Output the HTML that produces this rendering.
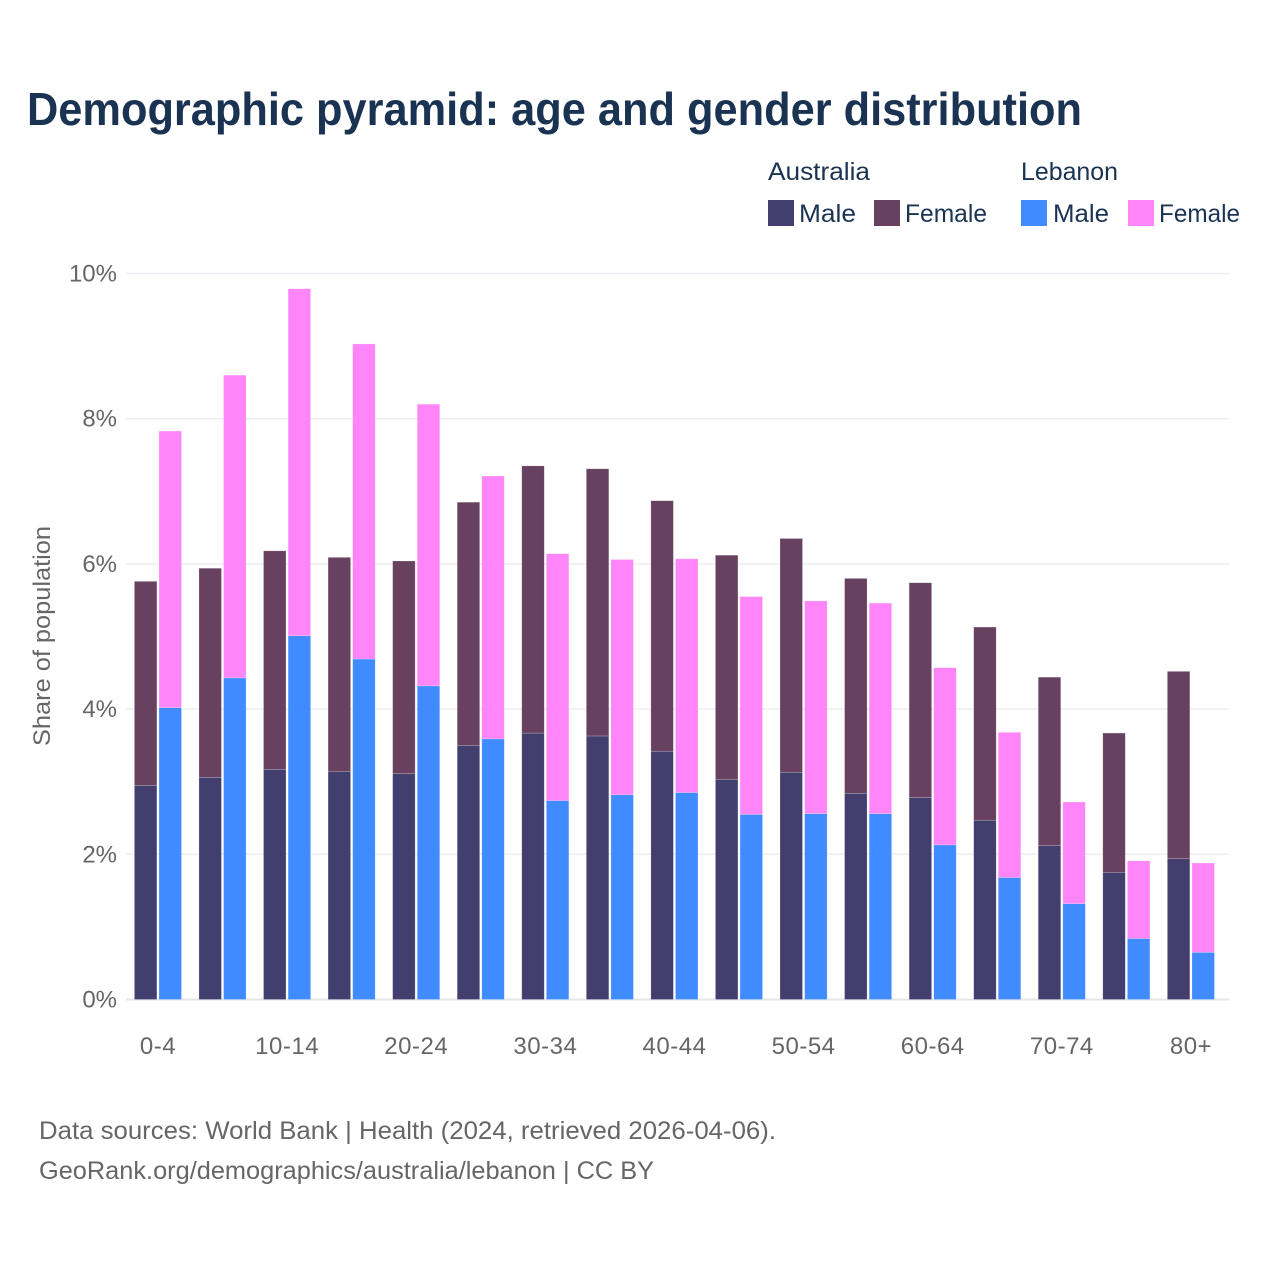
<!DOCTYPE html>
<html lang="en">
<head>
<meta charset="utf-8">
<title>Demographic pyramid: age and gender distribution</title>
<style>
html,body{margin:0;padding:0;background:#fff;width:1280px;height:1280px;overflow:hidden}
svg{display:block}
text{font-family:"Liberation Sans",sans-serif}
</style>
</head>
<body>
<svg id="chart" xmlns="http://www.w3.org/2000/svg" width="1280" height="1280" viewBox="0 0 1280 1280">
<rect x="0" y="0" width="1280" height="1280" fill="#ffffff"/>
<text x="27" y="125" font-size="46" font-weight="700" fill="#1a3352" textLength="1055" lengthAdjust="spacingAndGlyphs">Demographic pyramid: age and gender distribution</text>
<g font-size="25" fill="#1a3352">
<text x="768" y="180" textLength="102" lengthAdjust="spacingAndGlyphs">Australia</text>
<text x="1021" y="180" textLength="97" lengthAdjust="spacingAndGlyphs">Lebanon</text>
<rect x="768" y="200" width="26" height="26" fill="#423f6f"/>
<text x="799" y="222" textLength="57" lengthAdjust="spacingAndGlyphs">Male</text>
<rect x="874" y="200" width="26" height="26" fill="#67415f"/>
<text x="905" y="222" textLength="82" lengthAdjust="spacingAndGlyphs">Female</text>
<rect x="1021" y="200" width="26" height="26" fill="#3f8bff"/>
<text x="1053" y="222" textLength="56" lengthAdjust="spacingAndGlyphs">Male</text>
<rect x="1128" y="200" width="26" height="26" fill="#ff85f8"/>
<text x="1159" y="222" textLength="81" lengthAdjust="spacingAndGlyphs">Female</text>
</g>
<g id="grid"></g>
<g id="bars"></g>
<g id="yticks"></g>
<g id="xticks"></g>
<text transform="translate(50,636) rotate(-90)" text-anchor="middle" font-size="24" fill="#666666" textLength="220" lengthAdjust="spacingAndGlyphs">Share of population</text>
<text x="39" y="1139" font-size="25" fill="#666666" textLength="737" lengthAdjust="spacingAndGlyphs">Data sources: World Bank | Health (2024, retrieved 2026-04-06).</text>
<text x="39" y="1179" font-size="25" fill="#666666" textLength="615" lengthAdjust="spacingAndGlyphs">GeoRank.org/demographics/australia/lebanon | CC BY</text>
</svg>
<script>
const categories = ["0-4","5-9","10-14","15-19","20-24","25-29","30-34","35-39","40-44","45-49","50-54","55-59","60-64","65-69","70-74","75-79","80+"];
const tickCategories = ["0-4","10-14","20-24","30-34","40-44","50-54","60-64","70-74","80+"];
const yTicks = [0,2,4,6,8,10];
const australiaMale = [2.95,3.06,3.17,3.14,3.11,3.50,3.67,3.63,3.42,3.03,3.13,2.84,2.78,2.47,2.12,1.75,1.94];
const australiaFemale = [2.81,2.88,3.01,2.95,2.93,3.35,3.68,3.68,3.45,3.09,3.22,2.96,2.96,2.66,2.32,1.92,2.58];
const lebanonMale = [4.02,4.43,5.01,4.69,4.32,3.59,2.74,2.82,2.85,2.55,2.56,2.56,2.13,1.68,1.32,0.84,0.65];
const lebanonFemale = [3.81,4.17,4.78,4.34,3.88,3.62,3.40,3.24,3.22,3.00,2.93,2.90,2.44,2.00,1.40,1.07,1.23];

const NS = 'http://www.w3.org/2000/svg';
const yScale = v => 999.5 - v * 72.6;
const xScale = i => 158 + i * 64.56;
const barWidth = 22.5;

const gridGroup = document.getElementById('grid');
const yTickGroup = document.getElementById('yticks');
yTicks.forEach(t => {
  const line = document.createElementNS(NS, 'line');
  
  
  line.setAttribute('x1', 126);
  line.setAttribute('x2', 1229);
  line.setAttribute('y1', yScale(t));
  line.setAttribute('y2', yScale(t));
  line.setAttribute('stroke', t === 0 ? '#e6e6ea' : '#eeeef2');
  line.setAttribute('stroke-width', t === 0 ? 2 : 1.5);
  gridGroup.appendChild(line);
  const label = document.createElementNS(NS, 'text');
  
  
  label.setAttribute('x', 117);
  label.setAttribute('y', yScale(t) + 8);
  label.setAttribute('text-anchor', 'end');
  label.setAttribute('font-size', 24);
  label.setAttribute('fill', '#666666');
  label.textContent = t + '%';
  yTickGroup.appendChild(label);
});

function addBar(x, base, value, color) {
  const top = yScale(base + value);
  const bar = document.createElementNS(NS, 'rect');
  
  
  bar.setAttribute('x', x);
  bar.setAttribute('y', top);
  bar.setAttribute('width', barWidth);
  bar.setAttribute('height', yScale(base) - top);
  bar.setAttribute('fill', color);
  bar.setAttribute('stroke', '#ffffff');
  bar.setAttribute('stroke-opacity', '0.35');
  bar.setAttribute('stroke-width', '0.6');
  document.getElementById('bars').appendChild(bar);
}

categories.forEach((c, i) => {
  const cx = xScale(i);
  addBar(cx - 23.6, 0, australiaMale[i], '#423f6f');
  addBar(cx - 23.6, australiaMale[i], australiaFemale[i], '#67415f');
  addBar(cx + 1, 0, lebanonMale[i], '#3f8bff');
  addBar(cx + 1, lebanonMale[i], lebanonFemale[i], '#ff85f8');
  if (tickCategories.includes(c)) {
    const label = document.createElementNS(NS, 'text');
    
    
    label.setAttribute('x', cx);
    label.setAttribute('y', 1054);
    label.setAttribute('text-anchor', 'middle');
    label.setAttribute('font-size', 24);
    label.setAttribute('letter-spacing', '0.5');
    label.setAttribute('fill', '#666666');
    label.textContent = c;
    document.getElementById('xticks').appendChild(label);
  }
});
</script>
</body>
</html>
